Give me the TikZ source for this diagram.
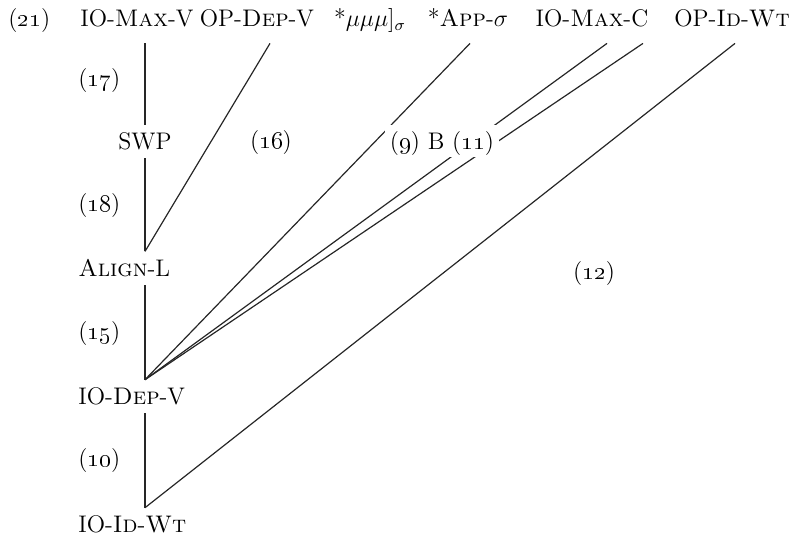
\documentclass[tikz,border=0pt]{standalone}
\usepackage{tikz}
\usetikzlibrary{calc}

\begin{document}
\begin{tikzpicture}[
    x=0.5pt,
    y=-0.5pt,
    font=\fontsize{12}{14}\selectfont,
    head/.style={
        anchor=base,
        text depth=0pt,
        inner xsep=0pt,
        inner ysep=8pt
    },
    rank/.style={
        anchor=base west,
        text depth=0pt,
        inner xsep=0pt,
        inner ysep=4pt
    },
    tag/.style={
        anchor=base,
        inner sep=0pt
    },
    edge/.style={
        line width=0.6pt,
        color=black!85
    }
]
\useasboundingbox (0,0) rectangle (793,539);

% top row
\node[tag, anchor=base west] (ex21) at (8,27) {(\oldstylenums{21})};
\node[head] (maxV) at (137,27) {IO-\textsc{Max}-V};
\node[head] (depOP) at (257,27) {OP-\textsc{Dep}-V};
\node[head] (muTrim) at (370,27) {*$\mu\mu\mu]_\sigma$};
\node[head] (appS) at (468,27) {*\textsc{App}-$\sigma$};
\node[head] (maxC) at (592,27) {IO-\textsc{Max}-C};
\node[head] (idOP) at (732,27) {OP-\textsc{Id}-\textsc{Wt}};

% ranking column
\node[rank, anchor=base] (swp) at (145,150) {SWP};
\node[rank] (alignL) at (78,277) {\textsc{Align}-L};
\node[rank] (depIO) at (78,405) {IO-\textsc{Dep}-V};
\node[rank] (idIO) at (78,533) {IO-\textsc{Id}-\textsc{Wt}};

% example numbers
\node[tag, anchor=base west] (l17) at (78,87) {(\oldstylenums{17})};
\node[tag, anchor=base west] (l18) at (78,212) {(\oldstylenums{18})};
\node[tag, anchor=base west] (l15) at (78,340) {(\oldstylenums{15})};
\node[tag, anchor=base west] (l10) at (78,467) {(\oldstylenums{10})};
\node[tag] (l16) at (271,149) {(\oldstylenums{16})};
\node[tag] (l12) at (594,280) {(\oldstylenums{12})};

\draw[edge] (maxV.south -| swp) -- (swp);
\draw[edge] (swp) -- (alignL.north -| swp);
\draw[edge] ($(depOP.south)+(13,0)$) -- (alignL.north -| swp);
\draw[edge] (alignL.south -| swp) -- (depIO.north -| swp);
\draw[edge] ($(appS.south)+(2,0)$) -- (depIO.north -| swp);
\draw[edge] ($(maxC.south)+(15,0)$) -- (depIO.north -| swp);
\draw[edge] ($(maxC.south)+(51,0)$) -- (depIO.north -| swp);
\draw[edge] (depIO.south -| swp) -- (idIO.north -| swp);
\draw[edge] ($(idOP.south)+(3,0)$) -- (idIO.north -| swp);

% B sits over the two lines
\node[tag, fill=white, text depth=0pt, inner xsep=2.5pt, inner ysep=3.5pt] (bMid) at (442,150)
    {(\oldstylenums{9}) B (\oldstylenums{11})};

\end{tikzpicture}
\end{document}
